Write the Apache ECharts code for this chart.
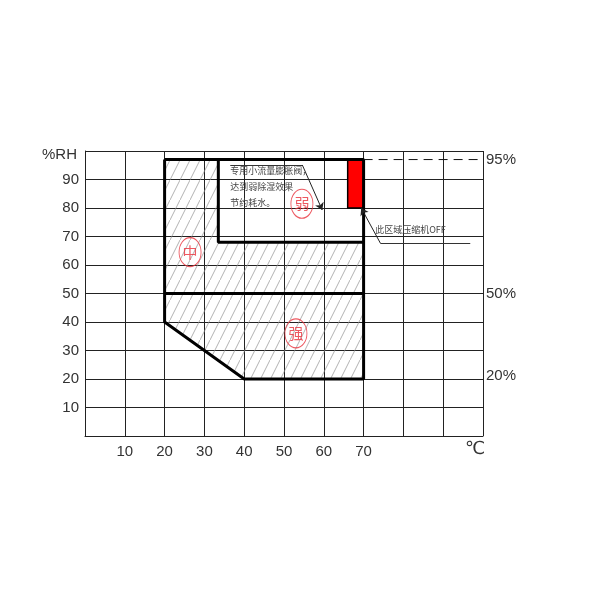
<!DOCTYPE html>
<html>
<head>
<meta charset="utf-8">
<script src="https://cdn.jsdelivr.net/npm/echarts@6/dist/echarts.min.js"></script>
<style>html,body{margin:0;background:#fff}#chart{width:600px;height:600px}</style>
</head>
<body>
<div id="chart"></div>
<script>
// tick labels that are printed
var xTicks = [10, 20, 30, 40, 50, 60, 70];
var yTicks = [10, 20, 30, 40, 50, 60, 70, 80, 90];
// zone shapes, in (°C, %RH)
var hatchArea = [[20, 97], [33.5, 97], [33.5, 68], [70, 68], [70, 20], [40, 20], [20, 40]];
var outerBorder = [[20, 97], [70, 97], [70, 20], [40, 20], [20, 40], [20, 97]];
var midBorder = [[20, 50], [70, 50]];
var innerBorder = [[33.5, 97], [33.5, 68], [70, 68]];
var offZone = [[66, 80], [70, 97]];
var limitLine = [[70, 97], [100, 97]];
// zone names in circles
var zoneNames = ['中', '弱', '强'];
var zoneX = [26.4, 54.5, 53];
var zoneY = [64.5, 81.5, 36];
// right side labels
var sideText = ['95%', '50%', '20%'];
var sideY = [97, 50, 21];
// notes
var note1 = ['专用小流量膨胀阀，', '达到弱除湿效果', '节约耗水。'];
var note1X = 36.5;
var note1Y = [93.3, 87.4, 81.8];
var note1Leader = [[36.5, 95.1], [54.6, 95.1], [59.6, 79.3]];
var note2 = '此区域压缩机OFF';
var note2X = 72.9;
var note2Y = 72.4;
var note2Leader = [[96.8, 67.7], [74.2, 67.7], [69.4, 80]];

// diagonal hatch tile
var hatch = document.createElement('canvas');
hatch.width = 10;
hatch.height = 20;
var g = hatch.getContext('2d');
g.strokeStyle = '#929292';
g.lineWidth = 0.7;
g.beginPath();
g.moveTo(-1, 22);
g.lineTo(11, -2);
g.stroke();

var numFont = 'Liberation Sans';
var cjkFont = 'Noto Sans CJK SC';

function txt(p, text, size, color, align, family) {
  return {
    type: 'text',
    x: p[0],
    y: p[1],
    style: {
      text: text,
      fill: color,
      font: size + 'px "' + family + '"',
      align: align,
      verticalAlign: 'middle',
      textAlign: align,
      textVerticalAlign: 'middle'
    }
  };
}

// split a leader into its plain part and its last (arrowed) segment
function plainPart(pts) {
  var out = [];
  for (var i = 0; i < pts.length - 2; i++) out.push({ coords: [pts[i], pts[i + 1]] });
  return out;
}
function arrowPart(pts) {
  return { coords: [pts[pts.length - 2], pts[pts.length - 1]] };
}

var chart = echarts.init(document.getElementById('chart'));
var option = {
  animation: false,
  backgroundColor: '#fff',
  grid: { left: 85, right: 117, top: 151, bottom: 164 },
  xAxis: {
    type: 'value',
    min: 0,
    max: 100,
    interval: 10,
    axisLine: { show: true, lineStyle: { color: '#222', width: 1 } },
    axisTick: { show: false },
    splitLine: { show: true, lineStyle: { color: '#222', width: 1 } },
    axisLabel: {
      margin: 8,
      color: '#333',
      fontSize: 15,
      fontFamily: numFont,
      formatter: function (v) { return xTicks.indexOf(v) >= 0 ? String(v) : ''; }
    }
  },
  yAxis: {
    type: 'value',
    min: 0,
    max: 100,
    interval: 10,
    axisLine: { show: true, lineStyle: { color: '#222', width: 1 } },
    axisTick: { show: false },
    splitLine: { show: true, lineStyle: { color: '#222', width: 1 } },
    axisLabel: {
      margin: 6,
      color: '#333',
      fontSize: 15,
      fontFamily: numFont,
      formatter: function (v) { return yTicks.indexOf(v) >= 0 ? String(v) : ''; }
    }
  },
  graphic: [
    { type: 'text', left: 42, top: 147, style: { text: '%RH', fill: '#333', font: '15px "' + numFont + '"' } },
    { type: 'text', left: 465, top: 440, style: { text: '℃', fill: '#333', font: '18px "DejaVu Sans"' } }
  ],
  series: [
    {
      type: 'custom',
      z: 1,
      data: [0],
      renderItem: function (params, api) {
        return {
          type: 'polygon',
          shape: { points: hatchArea.map(function (p) { return api.coord(p); }) },
          style: { fill: { image: hatch, repeat: 'repeat' }, stroke: null }
        };
      }
    },
    {
      type: 'custom',
      z: 2,
      data: [0],
      renderItem: function (params, api) {
        var a = api.coord(offZone[0]);
        var b = api.coord(offZone[1]);
        return {
          type: 'rect',
          shape: { x: a[0], y: b[1], width: b[0] - a[0], height: a[1] - b[1] },
          style: { fill: '#ff0000', stroke: '#000', lineWidth: 1.5 }
        };
      }
    },
    { type: 'line', z: 3, data: outerBorder, showSymbol: false, symbol: 'none', lineStyle: { color: '#000', width: 3 } },
    { type: 'line', z: 3, data: midBorder, showSymbol: false, symbol: 'none', lineStyle: { color: '#000', width: 3 } },
    { type: 'line', z: 3, data: innerBorder, showSymbol: false, symbol: 'none', lineStyle: { color: '#000', width: 3 } },
    { type: 'line', z: 3, data: limitLine, showSymbol: false, symbol: 'none', lineStyle: { color: '#111', width: 1, type: [9, 6] } },
    {
      type: 'lines',
      coordinateSystem: 'cartesian2d',
      z: 4,
      symbol: ['none', 'none'],
      lineStyle: { color: '#333', width: 1, opacity: 1 },
      data: plainPart(note1Leader).concat(plainPart(note2Leader))
    },
    {
      type: 'lines',
      coordinateSystem: 'cartesian2d',
      z: 4,
      symbol: ['none', 'arrow'],
      symbolSize: [4, 7],
      lineStyle: { color: '#222', width: 1, opacity: 1 },
      data: [arrowPart(note1Leader), arrowPart(note2Leader)]
    },
    {
      type: 'scatter',
      z: 5,
      symbol: 'circle',
      symbolSize: [22, 29],
      itemStyle: { color: 'rgba(255,255,255,0)', borderColor: '#e8303a', borderWidth: 1 },
      label: { show: true, position: 'inside', formatter: '{b}', color: '#e8303a', fontSize: 15, fontFamily: cjkFont },
      data: zoneNames.map(function (n, i) { return { name: n, value: [zoneX[i], zoneY[i]] }; })
    },
    {
      type: 'custom',
      z: 6,
      data: [0],
      clip: false,
      renderItem: function (params, api) {
        var els = [];
        note1.forEach(function (t, i) {
          els.push(txt(api.coord([note1X, note1Y[i]]), t, 9, '#444', 'left', cjkFont));
        });
        els.push(txt(api.coord([note2X, note2Y]), note2, 9, '#444', 'left', cjkFont));
        sideText.forEach(function (t, i) {
          var p = api.coord([100, sideY[i]]);
          els.push(txt([p[0] + 3, p[1]], t, 15, '#333', 'left', numFont));
        });
        return { type: 'group', children: els };
      }
    }
  ]
};
chart.setOption(option);
</script>
</body>
</html>
